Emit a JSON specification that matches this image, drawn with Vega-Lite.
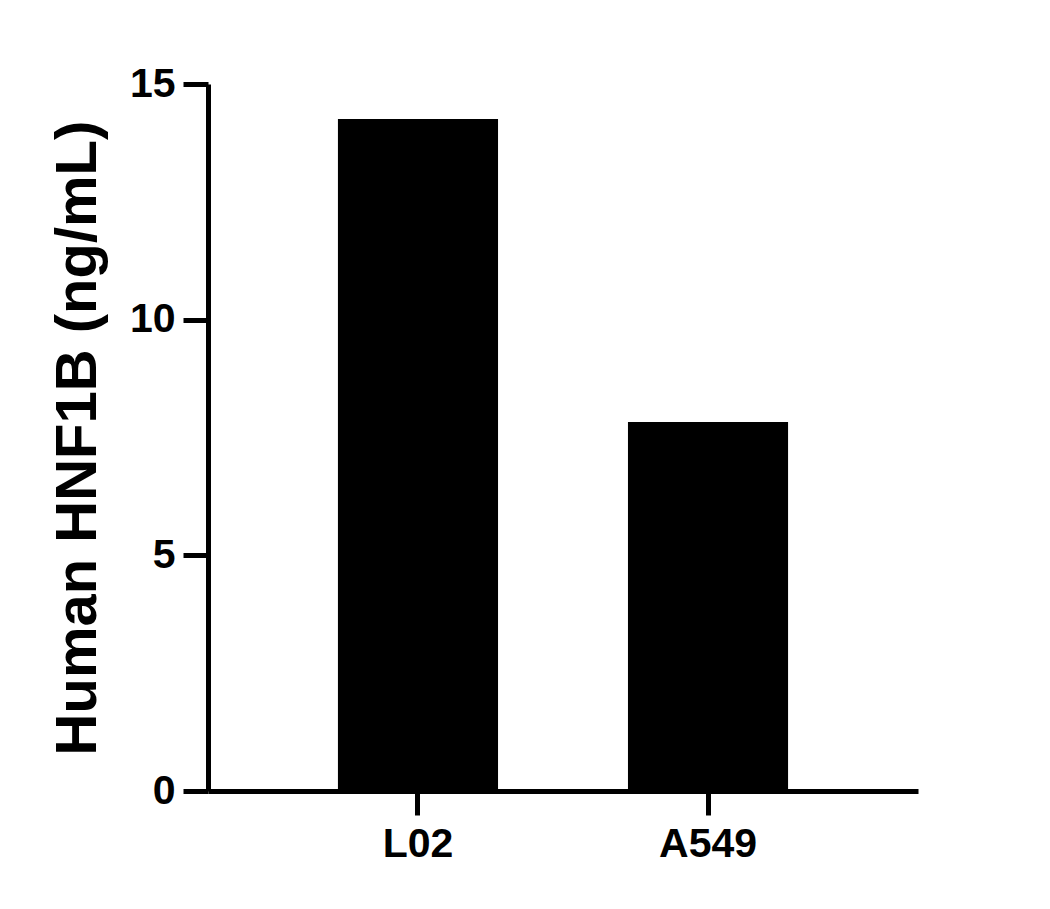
{
  "$schema": "https://vega.github.io/schema/vega-lite/v6.json",
  "width": 710,
  "height": 707,
  "autosize": {"type": "none"},
  "padding": {"left": 208, "top": 84, "right": 132, "bottom": 118},
  "background": "white",
  "config": {
    "view": {"stroke": null},
    "font": "Liberation Sans",
    "axis": {
      "grid": false,
      "domainColor": "black",
      "domainWidth": 5,
      "tickColor": "black",
      "tickWidth": 5,
      "tickSize": 25,
      "labelFont": "Liberation Sans",
      "labelFontWeight": "bold",
      "labelFontSize": 41,
      "labelColor": "black",
      "titleFont": "Liberation Sans",
      "titleFontWeight": "bold",
      "titleColor": "black"
    }
  },
  "data": {
    "values": [
      {"cell": "L02", "value": 14.26},
      {"cell": "A549", "value": 7.83}
    ]
  },
  "mark": {"type": "bar", "color": "black"},
  "encoding": {
    "x": {
      "field": "cell",
      "type": "nominal",
      "sort": ["L02", "A549"],
      "scale": {"paddingInner": 0.448, "paddingOuter": 0.448},
      "axis": {"title": null, "labelAngle": 0, "labelPadding": 9, "tickSize": 24}
    },
    "y": {
      "field": "value",
      "type": "quantitative",
      "scale": {"domain": [0, 15], "nice": false},
      "axis": {
        "title": "Human HNF1B (ng/mL)",
        "titleFontSize": 58,
        "titlePadding": 22,
        "values": [0, 5, 10, 15],
        "labelPadding": 8
      }
    }
  }
}
